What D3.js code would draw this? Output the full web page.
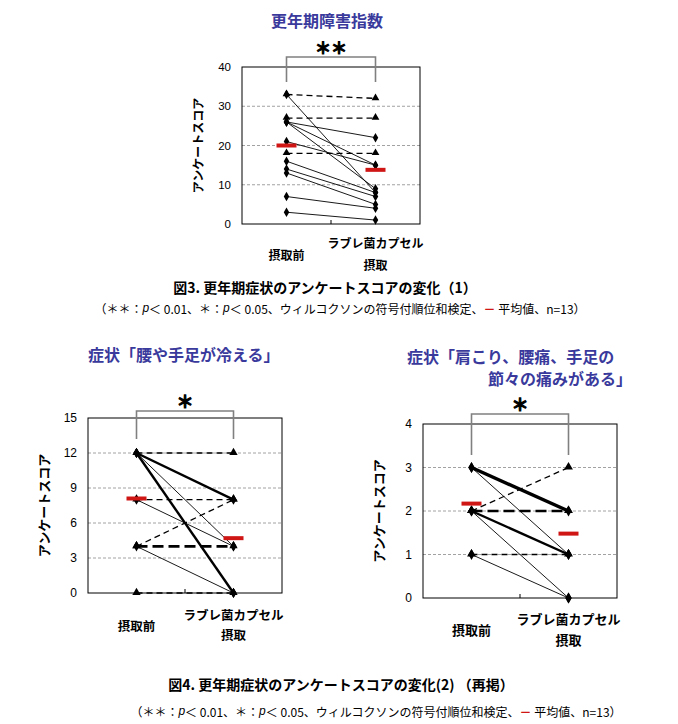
<!DOCTYPE html>
<html><head><meta charset="utf-8">
<script src="https://cdn.jsdelivr.net/npm/d3@7"></script>
<style>body{margin:0;background:#fff} svg{display:block}</style>
</head><body><svg id="c" width="678" height="724"></svg>
<script>
// ---------- DATA ----------
const categories = ["摂取前", "ラブレ菌カプセル\n摂取"];
const yAxisTitle = "アンケートスコア";

// Chart 1: 更年期障害指数 (each row = one subject)
const c1Title = ["更年期障害指数"];
const c1Before = [33, 33, 27, 26, 26, 26, 21, 18, 16, 14, 13, 7, 3];
const c1After  = [32,  8, 27, 22, 15,  9, 15, 18,  8,  7,  5, 4, 1];
const c1Count  = [1, 1, 1, 1, 1, 1, 1, 1, 1, 1, 1, 1, 1];
const c1NoImprove = [1, 0, 1, 0, 0, 0, 0, 1, 0, 0, 0, 0, 0];
const c1Means  = [20, 13.8];
const c1Ticks  = [0, 10, 20, 30, 40];
const c1Sig    = "＊＊";

// Chart 2: 腰や手足が冷える (each row = a path with number of subjects)
const c2Title = ["症状「腰や手足が冷える」"];
const c2Before = [12, 12, 12, 12, 8, 8, 4, 4, 4, 0];
const c2After  = [12,  8,  4,  0, 8, 4, 8, 4, 0, 0];
const c2Count  = [ 1,  2,  1,  2, 1, 1, 1, 2, 1, 1];
const c2NoImprove = [1, 0, 0, 0, 1, 0, 1, 1, 0, 1];
const c2Means  = [8.1, 4.7];
const c2Ticks  = [0, 3, 6, 9, 12, 15];
const c2Sig    = "＊";

// Chart 3: 肩こり、腰痛、手足の節々の痛みがある
const c3Title = ["症状「肩こり、腰痛、手足の", "節々の痛みがある」"];
const c3Before = [3, 3, 2, 2, 2, 2, 1, 1];
const c3After  = [2, 1, 3, 2, 1, 0, 1, 0];
const c3Count  = [3, 1, 1, 3, 2, 1, 1, 1];
const c3NoImprove = [0, 0, 1, 1, 0, 0, 1, 0];
const c3Means  = [2.17, 1.48];
const c3Ticks  = [0, 1, 2, 3, 4];
const c3Sig    = "＊";

const caption1 = "図3. 更年期症状のアンケートスコアの変化（1）";
const caption2 = "図4. 更年期症状のアンケートスコアの変化(2) （再掲）";
const noteParts = [
  {t:"（＊＊："}, {t:"p", it:true}, {t:"＜ 0.01、＊："}, {t:"p", it:true},
  {t:"＜ 0.05、ウィルコクソンの符号付順位和検定、"}, {t:"－", red:true}, {t:" 平均値、n=13）"}
];

// ---------- DRAWING ----------
const svg = d3.select("#c");
const JP = "'Noto Sans CJK JP','Noto Sans',sans-serif";
const NUM = "'Liberation Sans',Arial,sans-serif";
const BLUE = "#3a3a9c", RED = "#d01515";

function panel(cfg, before, after, count, noImp, means, ticks, sig, title) {
  const {L, R, T, B} = cfg;
  const x = d3.scalePoint().domain(categories).range([L, R]).padding(0.5);
  const y = d3.scaleLinear().domain([ticks[0], ticks[ticks.length-1]]).range([B, T]);
  const g = svg.append("g");

  title.forEach((line, i) => {
    g.append("text").attr("x", cfg.titleX[i]).attr("y", cfg.titleY[i])
      .attr("text-anchor", cfg.titleAnchor[i]).attr("dominant-baseline", "central")
      .attr("font-family", JP).attr("font-weight", "bold").attr("font-size", cfg.titleSize)
      .attr("fill", BLUE).text(line);
  });

  g.selectAll(".grid").data(ticks.slice(1, -1)).join("line")
    .attr("x1", L).attr("x2", R).attr("y1", d => y(d)).attr("y2", d => y(d))
    .attr("stroke", "#8a8a8a").attr("stroke-width", 0.8).attr("stroke-dasharray", "3,2");

  g.append("rect").attr("x", L).attr("y", T).attr("width", R - L).attr("height", B - T)
    .attr("fill", "none").attr("stroke", "#000").attr("stroke-width", 1);

  const ya = g.append("g").attr("transform", `translate(${L},0)`)
    .call(d3.axisLeft(y).tickValues(ticks).tickFormat(d3.format("d")).tickSize(0).tickPadding(cfg.tickPad));
  ya.select(".domain").remove();
  ya.selectAll("text").attr("font-family", NUM).attr("font-size", cfg.tickSize).attr("fill", "#000");

  g.append("line").attr("x1", (L + R) / 2).attr("x2", (L + R) / 2).attr("y1", B).attr("y2", B - 4)
    .attr("stroke", "#000");

  g.append("text").attr("transform", `translate(${cfg.yTitleX},${(T + B) / 2}) rotate(-90)`)
    .attr("text-anchor", "middle").attr("dominant-baseline", "central")
    .attr("font-family", JP).attr("font-weight", "bold").attr("font-size", cfg.yTitleSize)
    .text(yAxisTitle);

  categories.forEach((c, i) => {
    const lines = c.split("\n");
    const cy = B + cfg.xlOff + (lines.length === 1 ? cfg.xlGap / 2 + 1 : 0);
    lines.forEach((ln, j) => {
      g.append("text").attr("x", x(c)).attr("y", cy + j * cfg.xlGap)
        .attr("text-anchor", "middle").attr("dominant-baseline", "central")
        .attr("font-family", JP).attr("font-weight", "bold").attr("font-size", cfg.xlSize)
        .text(ln);
    });
  });

  const rows = before.map((b, i) => ({b, a: after[i], n: count[i], ni: noImp[i]}));
  const widthOf = n => n === 1 ? 0.9 : n === 2 ? 2.4 : 3.4;
  g.selectAll(".ln").data(rows).join("line")
    .attr("x1", x(categories[0])).attr("x2", x(categories[1]))
    .attr("y1", d => y(d.b)).attr("y2", d => y(d.a))
    .attr("stroke", "#000")
    .attr("stroke-width", d => d.ni ? (d.n === 1 ? 1.3 : 2.6) : widthOf(d.n))
    .attr("stroke-dasharray", d => d.ni ? (d.n === 1 ? "6,4" : "11,5") : null);

  const pts = [];
  rows.forEach(d => {
    pts.push({cx: x(categories[0]), v: d.b, ni: d.ni});
    pts.push({cx: x(categories[1]), v: d.a, ni: d.ni});
  });
  pts.sort((p, q) => p.ni - q.ni);
  g.selectAll(".mk").data(pts).join("path")
    .attr("transform", d => `translate(${d.cx},${y(d.v) + (d.ni ? -0.5 : 0)})`)
    .attr("d", d => d3.symbol().type(d.ni ? d3.symbolTriangle : d3.symbolDiamond).size(cfg.mk)())
    .attr("fill", "#000");

  g.selectAll(".mean").data(means).join("rect")
    .attr("x", (d, i) => x(categories[i]) - 10).attr("y", d => y(d) - 2)
    .attr("width", 20).attr("height", 4).attr("fill", RED);

  const x0 = x(categories[0]), x1 = x(categories[1]);
  g.append("path").attr("d", `M${x0},${cfg.brB}V${cfg.brT}H${x1}V${cfg.brB}`)
    .attr("fill", "none").attr("stroke", "#808080").attr("stroke-width", 1.6);
  g.append("text").attr("x", (x0 + x1) / 2).attr("y", cfg.starY)
    .attr("text-anchor", "middle").attr("dominant-baseline", "central")
    .attr("font-family", JP).attr("font-weight", "bold").attr("font-size", cfg.starSize)
    .attr("stroke", "#000").attr("stroke-width", 1.1)
    .attr("letter-spacing", cfg.starSpace).text(sig);
}

panel({L: 242, R: 420, T: 67, B: 224, titleX: [327], titleY: [20], titleAnchor: ["middle"], titleSize: 16,
  tickPad: 11, tickSize: 11.5, yTitleX: 197, yTitleSize: 12, xlOff: 18, xlGap: 22, xlSize: 12,
  mk: 26, brT: 57, brB: 82, starY: 47, starSize: 16, starSpace: 0},
  c1Before, c1After, c1Count, c1NoImprove, c1Means, c1Ticks, c1Sig, c1Title);

panel({L: 88, R: 282, T: 418, B: 593, titleX: [88], titleY: [354], titleAnchor: ["start"], titleSize: 16,
  tickPad: 11, tickSize: 12, yTitleX: 43, yTitleSize: 13, xlOff: 21, xlGap: 20, xlSize: 12.5,
  mk: 30, brT: 411, brB: 439, starY: 400, starSize: 17, starSpace: 0},
  c2Before, c2After, c2Count, c2NoImprove, c2Means, c2Ticks, c2Sig, c2Title);

panel({L: 423, R: 617, T: 424, B: 598, titleX: [407, 632], titleY: [356, 378], titleAnchor: ["start", "end"], titleSize: 16,
  tickPad: 11, tickSize: 12, yTitleX: 378, yTitleSize: 13, xlOff: 20, xlGap: 21, xlSize: 13,
  mk: 34, brT: 414, brB: 455, starY: 403, starSize: 17, starSpace: 0},
  c3Before, c3After, c3Count, c3NoImprove, c3Means, c3Ticks, c3Sig, c3Title);

function caption(text, cx, cy) {
  svg.append("text").attr("x", cx).attr("y", cy).attr("text-anchor", "middle")
    .attr("dominant-baseline", "central").attr("font-family", JP).attr("font-weight", "bold")
    .attr("font-size", 14).text(text);
}
function note(cx, cy) {
  const t = svg.append("text").attr("x", cx).attr("y", cy).attr("text-anchor", "middle")
    .attr("dominant-baseline", "central").attr("font-family", JP).attr("font-size", 12);
  noteParts.forEach(p => {
    const s = t.append("tspan").text(p.t);
    if (p.it) s.attr("font-style", "italic").attr("font-family", NUM);
    if (p.red) s.attr("fill", RED).attr("font-weight", "bold");
  });
}
caption(caption1, 325, 287);
note(340, 308);
caption(caption2, 341, 684);
note(376, 711);
</script></body></html>
